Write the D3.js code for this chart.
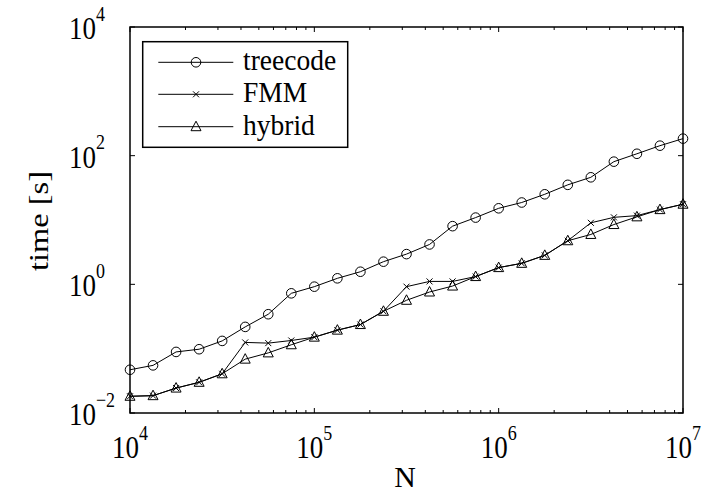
<!DOCTYPE html>
<html><head><meta charset="utf-8">
<script src="https://cdn.jsdelivr.net/npm/d3@7"></script>
<style>body{margin:0;background:#fff}svg{display:block}text{font-family:"Liberation Serif","DejaVu Serif",serif;fill:#000}</style>
</head><body>
<script>
// Data
const exponents = d3.range(0, 25).map(k => 4 + k / 8); // N = 10^(4 + k/8)
const N = exponents.map(e => Math.pow(10, e));
const treecode = [0.047,0.055,0.089,0.098,0.132,0.218,0.343,0.725,0.92,1.24,1.57,2.25,2.95,4.17,8.02,10.9,15.2,18.7,25.1,35.2,46.1,80.7,107,143,184];
const fmm = [0.0182,0.0186,0.0244,0.030,0.0407,0.125,0.122,0.134,0.151,0.194,0.237,0.381,0.92,1.11,1.11,1.32,1.82,2.12,2.82,4.76,9.04,11.0,11.7,14.5,17.6];
const hybrid = [0.0182,0.0186,0.0244,0.030,0.0407,0.0687,0.086,0.115,0.151,0.194,0.237,0.381,0.565,0.76,0.94,1.32,1.82,2.12,2.82,4.76,5.96,8.5,11.2,14.5,17.6];
const seriesNames = ["treecode", "FMM", "hybrid"];
const xTickExps = [4, 5, 6, 7];
const yTickExps = [-2, 0, 2, 4];
const xLabel = "N";
const yLabel = "time [s]";

const W = 704, H = 494;
const L = 130, R = 683, T = 27, B = 413;
const SY = 1.15;

const svg = d3.select("body").append("svg").attr("width", W).attr("height", H);
const x = d3.scaleLog().domain([1e4, 1e7]).range([L, R]);
const y = d3.scaleLog().domain([1e-2, 1e4]).range([B, T]);

// minor & major ticks
const minorX = [];
for (let d = 4; d < 7; d++) for (let m = 2; m <= 9; m++) minorX.push(m * Math.pow(10, d));
const tg = svg.append("g").attr("stroke", "#000").attr("stroke-width", 1);
minorX.forEach(v => {
  tg.append("line").attr("x1", x(v)).attr("x2", x(v)).attr("y1", B).attr("y2", B - 3);
  tg.append("line").attr("x1", x(v)).attr("x2", x(v)).attr("y1", T).attr("y2", T + 3);
});
xTickExps.forEach(e => {
  const v = Math.pow(10, e);
  tg.append("line").attr("x1", x(v)).attr("x2", x(v)).attr("y1", B).attr("y2", B - 5);
  tg.append("line").attr("x1", x(v)).attr("x2", x(v)).attr("y1", T).attr("y2", T + 5);
});
yTickExps.forEach(e => {
  const v = Math.pow(10, e);
  tg.append("line").attr("x1", L).attr("x2", L + 5).attr("y1", y(v)).attr("y2", y(v));
  tg.append("line").attr("x1", R).attr("x2", R - 5).attr("y1", y(v)).attr("y2", y(v));
});

// axes box
svg.append("rect").attr("x", L).attr("y", T).attr("width", R - L).attr("height", B - T)
  .attr("fill", "none").attr("stroke", "#000").attr("stroke-width", 1.5);

// tick labels
function powLabel(g, e, anchor, fs, sfs, up) {
  const t = g.append("text").attr("text-anchor", anchor).attr("font-size", fs);
  t.append("tspan").text("10");
  t.append("tspan").attr("font-size", sfs).attr("dy", -up).text(e < 0 ? "\u2212" + (-e) : String(e));
  return t;
}
xTickExps.forEach(e => {
  const g = svg.append("g").attr("transform", `translate(${x(Math.pow(10, e))},458) scale(1,${SY})`);
  powLabel(g, e, "middle", 27, 18, 16);
});
yTickExps.forEach(e => {
  const g = svg.append("g").attr("transform", `translate(69,${y(Math.pow(10, e)) + 12}) scale(1,${SY})`);
  powLabel(g, e, "start", 27, 18, 16);
});

// axis labels
svg.append("g").attr("transform", `translate(405,487) scale(1.15,1.1)`)
  .append("text").attr("text-anchor", "middle").attr("font-size", 26).text(xLabel);
svg.append("g").attr("transform", `translate(48,221) rotate(-90) scale(1.2,1)`)
  .append("text").attr("text-anchor", "middle").attr("font-size", 27).text(yLabel);

// markers
const triPath = "M0,-5.5L5,4L-5,4Z";
function drawMarker(g, type, cx, cy) {
  if (type === "circle") g.append("circle").attr("cx", cx).attr("cy", cy).attr("r", 4.8)
      .attr("fill", "none").attr("stroke", "#000").attr("stroke-width", 1);
  else if (type === "cross") g.append("path").attr("d", `M${cx-3},${cy-3}L${cx+3},${cy+3}M${cx-3},${cy+3}L${cx+3},${cy-3}`)
      .attr("fill", "none").attr("stroke", "#000").attr("stroke-width", 1);
  else g.append("path").attr("d", triPath).attr("transform", `translate(${cx},${cy})`)
      .attr("fill", "none").attr("stroke", "#000").attr("stroke-width", 1);
}
const series = [
  {name: seriesNames[0], vals: treecode, marker: "circle"},
  {name: seriesNames[1], vals: fmm, marker: "cross"},
  {name: seriesNames[2], vals: hybrid, marker: "tri"}
];
const line = d3.line().x(d => x(d[0])).y(d => y(d[1]));
series.forEach(s => {
  const pts = N.map((n, i) => [n, s.vals[i]]);
  const g = svg.append("g");
  g.append("path").attr("d", line(pts)).attr("fill", "none").attr("stroke", "#000").attr("stroke-width", 1);
  pts.forEach(p => drawMarker(g, s.marker, x(p[0]), y(p[1])));
});

// legend
const lg = svg.append("g");
lg.append("rect").attr("x", 142.7).attr("y", 41.7).attr("width", 205).attr("height", 105.6)
  .attr("fill", "#fff").attr("stroke", "#000").attr("stroke-width", 1.5);
const rowY = [62.3, 94.3, 126.7];
series.forEach((s, i) => {
  lg.append("line").attr("x1", 158.3).attr("x2", 233.3).attr("y1", rowY[i]).attr("y2", rowY[i])
    .attr("stroke", "#000").attr("stroke-width", 1);
  drawMarker(lg, s.marker, 196, rowY[i]);
  lg.append("g").attr("transform", `translate(243,${rowY[i] + 8}) scale(1,1.04)`)
    .append("text").attr("font-size", 27.5).text(s.name);
});
</script>
</body></html>
